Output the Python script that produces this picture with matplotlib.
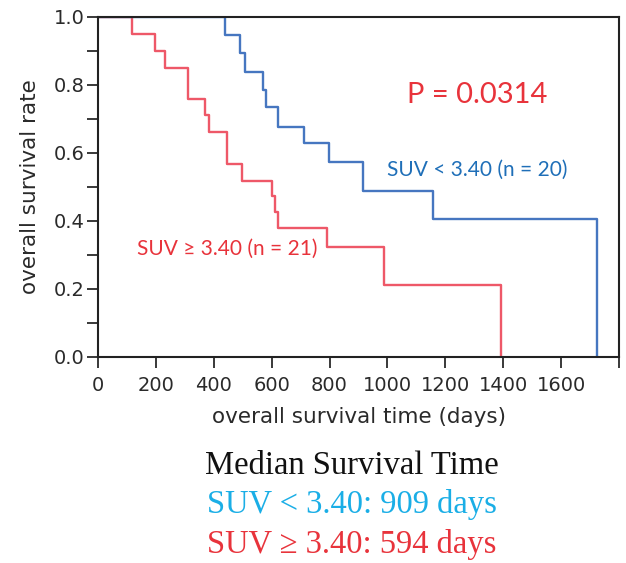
import matplotlib

matplotlib.use("Agg")
import matplotlib.pyplot as plt

# Kaplan-Meier steps
low_days = [0, 439, 491, 508, 570, 580, 622, 712, 798, 916, 1158, 1724]
low_surv = [1.0, 0.947, 0.894, 0.838, 0.785, 0.735, 0.677, 0.629, 0.573, 0.489, 0.406, 0.0]

high_days = [0, 117, 197, 231, 311, 370, 384, 446, 498, 601, 611, 622, 791, 988, 1393]
high_surv = [1.0, 0.95, 0.9, 0.85, 0.759, 0.712, 0.662, 0.568, 0.518, 0.474, 0.426,
             0.379, 0.324, 0.212, 0.0]

x_ticks = [0, 200, 400, 600, 800, 1000, 1200, 1400, 1600, 1800]
x_labels = ["0", "200", "400", "600", "800", "1000", "1200", "1400", "1600", ""]
y_ticks = [0.0, 0.2, 0.4, 0.6, 0.8, 1.0]

BLUE_LINE = "#4676c0"
RED_LINE = "#ee5868"
BLUE_TEXT = "#1f6fb8"
RED_TEXT = "#e8333b"
CYAN_TEXT = "#1aaee6"

fig = plt.figure(figsize=(6.26, 5.63), dpi=100, facecolor="white")
ax = fig.add_axes([98 / 626, 1 - 357 / 563, 521 / 626, 340 / 563])

ax.step(high_days, high_surv, where="post", color=RED_LINE, lw=1.7)
ax.step(low_days, low_surv, where="post", color=BLUE_LINE, lw=1.7)

ax.set_xlim(0, 1800)
ax.set_ylim(0, 1.0)
ax.set_xticks(x_ticks)
ax.set_xticklabels(x_labels)
ax.set_yticks(y_ticks)
ax.set_yticklabels([f"{v:.1f}" for v in y_ticks])
ax.set_yticks([0.1, 0.3, 0.5, 0.7, 0.9], minor=True)
ax.tick_params(axis="both", which="both", direction="out", length=8, width=1.3,
               labelsize=14, colors="#2a2a2a")
ax.tick_params(axis="y", which="both", pad=1.5)
ax.tick_params(axis="x", pad=6)
for spine in ax.spines.values():
    spine.set_linewidth(1.5)
    spine.set_color("#222222")

ax.set_xlabel("overall survival time (days)", fontsize=15.5, labelpad=8, color="#2a2a2a")
ax.set_ylabel("overall survival rate", fontsize=15.5, labelpad=10, color="#2a2a2a")

label_font = "Lato"
ax.text(1310, 0.772, "P = 0.0314", color=RED_TEXT, fontsize=21, family=label_font,
        ha="center", va="center")
ax.text(1310, 0.55, "SUV < 3.40 (n = 20)", color=BLUE_TEXT, fontsize=15,
        family=label_font, ha="center", va="center")
ax.text(445, 0.318, "SUV \u2265 3.40 (n = 21)", color=RED_TEXT, fontsize=15,
        family=label_font, ha="center", va="center")

serif = "Liberation Serif"
fig.text(352 / 626, 1 - 466 / 563, "Median Survival Time", fontsize=23.5, family=serif,
         color="#111111", ha="center", va="center")
fig.text(352 / 626, 1 - 505 / 563, "SUV < 3.40: 909 days", fontsize=23.5, family=serif,
         color=CYAN_TEXT, ha="center", va="center")
fig.text(352 / 626, 1 - 545 / 563, "SUV \u2265 3.40: 594 days", fontsize=23.5, family=serif,
         color=RED_TEXT, ha="center", va="center")

fig.savefig("out.png", dpi=100, facecolor="white")
